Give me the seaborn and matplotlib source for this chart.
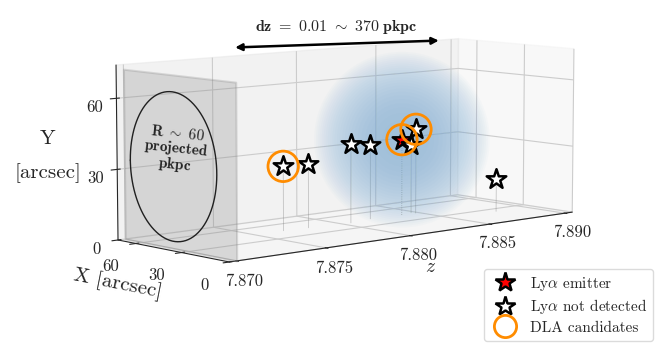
import numpy as np
import seaborn as sns
import matplotlib.pyplot as plt
from mpl_toolkits.mplot3d.art3d import Poly3DCollection
from matplotlib.lines import Line2D

sns.set_style("white")
plt.rcParams['font.family'] = 'serif'
plt.rcParams['font.serif'] = ['cmr10']
plt.rcParams['mathtext.fontset'] = 'cm'
plt.rcParams['axes.formatter.use_mathtext'] = True

# galaxies: redshift, X [arcsec], Y [arcsec]
z_emit = [7.8839]
x_emit = [44]
y_emit = [34]

z_nd = [7.8767, 7.8781, 7.8805, 7.8820, 7.8847, 7.8848, 7.8880]
x_nd = [45, 44, 42, 45, 46, 44, 24]
y_nd = [28, 28, 35, 33, 31, 38, 15]

# DLA candidates
z_dla = [7.8767, 7.8839, 7.8848]
x_dla = [45, 44, 44]
y_dla = [28, 34, 38]

z_ticks = [7.870, 7.875, 7.880, 7.885, 7.890]
xy_ticks = [0, 30, 60]

fig = plt.figure(figsize=(6.64, 3.52), dpi=100)
ax = fig.add_axes([0.022, -0.095, 1.0, 1.35], projection='3d')
ax.set_box_aspect((2.7, 1.0, 1.0), zoom=1.06)
ax.view_init(elev=7, azim=-132)

# glow around the emitter
for s in np.linspace(16000, 800, 24):
    ax.scatter(z_emit, x_emit, y_emit, s=s, color="#6aa4d2", alpha=0.032,
               edgecolors='none', depthshade=False)

# drop lines
for zz, xx, yy in zip(z_nd, x_nd, y_nd):
    ax.plot([zz, zz], [xx, xx], [0, yy], color='gray', lw=0.5, alpha=0.5)
ax.plot([z_emit[0]] * 2, [x_emit[0]] * 2, [0, y_emit[0]], color='gray',
        lw=0.6, ls=':', alpha=0.7)

ax.scatter(z_nd, x_nd, y_nd, marker='*', s=220, facecolor='white',
           edgecolor='black', linewidth=1.8, depthshade=False)
ax.scatter(z_emit, x_emit, y_emit, marker='*', s=220, facecolor='red',
           edgecolor='black', linewidth=1.8, depthshade=False)
ax.scatter(z_dla, x_dla, y_dla, marker='o', s=480, facecolor='none',
           edgecolor='darkorange', linewidth=2, depthshade=False)

# projected plane with circle
z0 = 7.8700
plane = [[(z0, 0, 0), (z0, 72, 0), (z0, 72, 72), (z0, 0, 72)]]
ax.add_collection3d(Poly3DCollection(plane, facecolor='gray', alpha=0.25,
                                     edgecolor='gray', linewidth=1.5))
t = np.linspace(0, 2 * np.pi, 200)
ax.plot(np.full_like(t, z0), 40 + 28 * np.cos(t), 34 + 31 * np.sin(t),
        color='black', lw=1)
fig.text(0.265, 0.575, r"$\mathbf{R\ \sim\ 60}$" "\n" r"$\mathbf{projected}$"
         "\n" r"$\mathbf{pkpc}$", ha='center', va='center', fontsize=11,
         rotation=-6, linespacing=0.9)

ax.set_xlim(7.8696, 7.8905)
ax.set_ylim(0, 72)
ax.set_zlim(0, 74)
ax.set_xticks(z_ticks)
ax.set_xticklabels([f"{v:.3f}" for v in z_ticks], fontsize=12)
ax.set_yticks(xy_ticks)
ax.set_yticklabels(xy_ticks, fontsize=12)
ax.set_zticks(xy_ticks)
ax.set_zticklabels(xy_ticks, fontsize=12)
ax.tick_params(axis='z', pad=0)
ax.set_xlabel('$z$', fontsize=14, labelpad=8)
ax.set_ylabel('X [arcsec]', fontsize=15)
ax.zaxis.set_rotate_label(False)
ax.set_zlabel('Y\n[arcsec]', fontsize=15, rotation=0, linespacing=2.0)

ax.annotate('', xy=(0.665, 0.885), xytext=(0.35, 0.865),
            xycoords='figure fraction',
            arrowprops=dict(arrowstyle='<|-|>', color='black', lw=1.8,
                            mutation_scale=10))
fig.text(0.507, 0.912, r'$\mathbf{dz}\ \mathbf{=}\ \mathbf{0.01}\ \sim\ '
         r'\mathbf{370}\ \mathbf{pkpc}$', ha='center', fontsize=11.5)

handles = [
    Line2D([], [], marker='*', ls='none', markersize=15, markerfacecolor='red',
           markeredgecolor='black', markeredgewidth=1.8),
    Line2D([], [], marker='*', ls='none', markersize=15, markerfacecolor='white',
           markeredgecolor='black', markeredgewidth=1.8),
    Line2D([], [], marker='o', ls='none', markersize=16, markerfacecolor='none',
           markeredgecolor='darkorange', markeredgewidth=2),
]
fig.legend(handles, [r'Ly$\alpha$ emitter', r'Ly$\alpha$ not detected',
                     'DLA candidates'],
           loc='lower right', bbox_to_anchor=(0.995, 0.01), fontsize=11,
           frameon=True, edgecolor='lightgray', labelspacing=0.3,
           handletextpad=0.6, borderpad=0.4)

fig.savefig('out.png', dpi=100)
